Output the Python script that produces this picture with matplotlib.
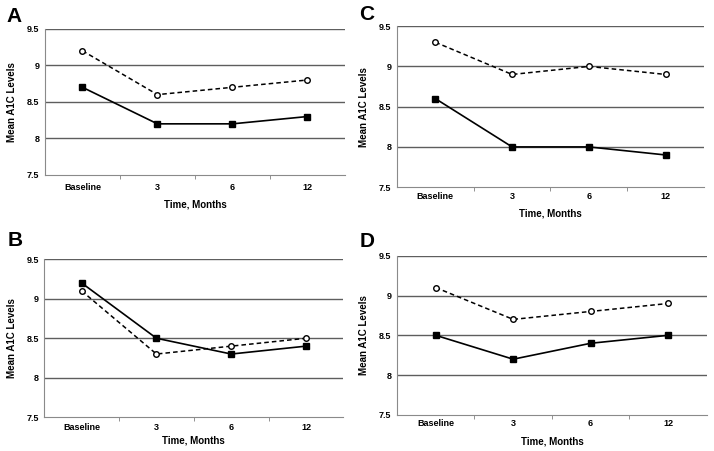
import matplotlib.pyplot as plt

plt.rcParams['font.family'] = ['Liberation Sans', 'DejaVu Sans']

categories = ['Baseline', '3', '6', '12']

a_dashed = [9.2, 8.6, 8.7, 8.8]
a_solid = [8.7, 8.2, 8.2, 8.3]
b_dashed = [9.1, 8.3, 8.4, 8.5]
b_solid = [9.2, 8.5, 8.3, 8.4]
c_dashed = [9.3, 8.9, 9.0, 8.9]
c_solid = [8.6, 8.0, 8.0, 7.9]
d_dashed = [9.1, 8.7, 8.8, 8.9]
d_solid = [8.5, 8.2, 8.4, 8.5]

yticks = [7.5, 8, 8.5, 9, 9.5]
yticklabels = ['7.5', '8', '8.5', '9', '9.5']

W, H = 714, 451

# letter, axes rect (fig fraction), letter pos in px (left, baseline),
# tick label pad, xlabel pad
panels = [
    ('A', [0.063, 0.612, 0.420, 0.324], (6, 22), 6.1, 5.0, a_dashed, a_solid),
    ('C', [0.556, 0.585, 0.430, 0.357], (359, 20), 3.3, 5.8, c_dashed, c_solid),
    ('B', [0.062, 0.075, 0.419, 0.350], (8, 246), 4.0, 3.0, b_dashed, b_solid),
    ('D', [0.556, 0.080, 0.434, 0.353], (360, 247), 2.6, 6.5, d_dashed, d_solid),
]

fig = plt.figure(figsize=(W / 100, H / 100), dpi=100)

for letter, rect, pos, tpad, lpad, dashed, solid in panels:
    ax = fig.add_axes(rect)
    x = list(range(len(categories)))
    ax.plot(x, dashed, color='black', linestyle=(0, (3, 2)), linewidth=1.1,
            marker='o', markersize=4, markerfacecolor='white',
            markeredgecolor='black', markeredgewidth=1.0, zorder=3)
    ax.plot(x, solid, color='black', linestyle='-', linewidth=1.2,
            marker='s', markersize=4, markerfacecolor='black',
            markeredgecolor='black', zorder=3)

    ax.set_xlim(-0.5, 3.5)
    ax.set_ylim(7.5, 9.5)
    ax.set_yticks(yticks)
    ax.set_yticklabels(yticklabels, fontsize=6.5, fontweight='bold')
    ax.set_xticks(x)
    ax.set_xticklabels(categories, fontsize=6.5, fontweight='bold')
    ax.set_xticks([0.5, 1.5, 2.5], minor=True)
    ax.tick_params(axis='x', which='major', length=0, pad=tpad)
    ax.tick_params(axis='x', which='minor', length=3, color='#808080')
    ax.tick_params(axis='y', length=0, pad=4)

    for yv in yticks[1:]:
        ax.axhline(yv, color='#5e5e5e', linewidth=1.0, zorder=1)

    for side in ['top', 'right']:
        ax.spines[side].set_visible(False)
    ax.spines['left'].set_color('#8a8a8a')
    ax.spines['bottom'].set_color('#8a8a8a')

    ax.set_xlabel('Time, Months', fontsize=7, fontweight='bold', labelpad=lpad)
    ax.set_ylabel('Mean A1C Levels', fontsize=7, fontweight='bold', labelpad=7)

    fig.text(pos[0] / W, 1 - pos[1] / H, letter,
             fontsize=15, fontweight='bold', ha='left', va='baseline')

fig.savefig('out.png', dpi=100)
